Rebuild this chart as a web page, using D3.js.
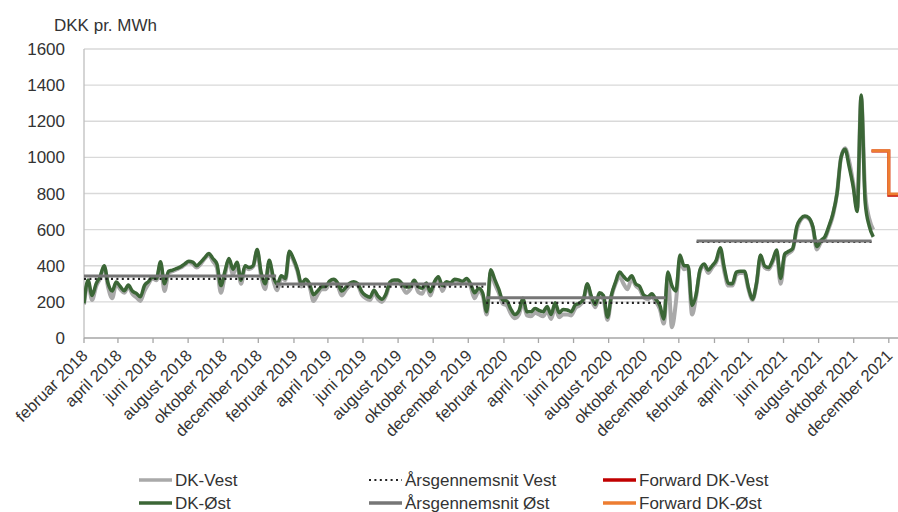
<!DOCTYPE html>
<html>
<head>
<meta charset="utf-8">
<script src="https://cdn.jsdelivr.net/npm/d3@7"></script>
<style>
  body { margin: 0; background: #fff; }
  text { font-family: "Liberation Sans", Arial, sans-serif; fill: #333; }
</style>
</head>
<body>
<div id="chart"></div>
<script>
// Weekly prices, first week starts 2018-02-01
const firstWeek = '2018-02-01';

const dkOst = [
  192, 321, 235, 300, 340, 400, 300, 260, 310, 285, 262, 293, 260, 247, 228, 290, 312, 337, 330, 422,
  300, 370, 376, 385, 395, 410, 425, 420, 400, 420, 445, 468, 440, 410, 290, 370, 440, 380, 420, 320,
  400, 390, 400, 490, 360, 300, 430, 340, 300, 345, 330, 480, 440, 380, 300, 325, 300, 240, 260, 284,
  285, 315, 325, 305, 260, 280, 303, 312, 300, 256, 235, 225, 265, 232, 215, 245, 310, 321, 321, 300,
  282, 285, 320, 284, 275, 305, 256, 310, 339, 290, 312, 305, 325, 322, 314, 330, 300, 250, 275, 250,
  146, 378, 325, 270, 210, 205, 160, 130, 150, 220, 145, 145, 164, 153, 145, 175, 130, 195, 140, 158,
  155, 146, 183, 192, 215, 300, 230, 185, 250, 235, 115, 240, 310, 365, 340, 320, 345, 300, 285, 238,
  228, 245, 215, 180, 105, 365, 290, 260, 459, 400, 400, 180, 240, 380, 410, 376, 400, 430, 500, 390,
  303, 300, 365, 370, 370, 280, 215, 303, 460, 400, 390, 430, 487, 330, 465, 480, 496, 616, 660, 675,
  665, 616, 506, 540, 561, 620, 690, 800, 1000, 1045, 950, 840, 700, 1345, 750, 620, 560
];

const dkVest = [
  185, 305, 210, 285, 330, 395, 280, 220, 300, 270, 250, 285, 245, 225, 205, 260, 300, 330, 320, 405,
  260, 360, 370, 380, 390, 405, 420, 410, 390, 410, 440, 460, 425, 390, 250, 350, 430, 350, 410, 300,
  390, 380, 395, 480, 340, 270, 420, 320, 265, 335, 320, 470, 430, 370, 285, 310, 285, 205, 240, 270,
  270, 305, 315, 290, 235, 265, 290, 300, 290, 240, 220, 210, 250, 215, 200, 235, 300, 315, 315, 285,
  250, 270, 310, 255, 245, 295, 235, 300, 330, 260, 300, 295, 320, 315, 305, 320, 285, 220, 260, 235,
  130, 360, 300, 250, 190, 180, 135, 110, 130, 200, 125, 120, 140, 130, 120, 150, 105, 170, 115, 130,
  130, 125, 165, 180, 205, 290, 215, 170, 235, 215, 100, 230, 300, 340, 300, 270, 330, 290, 270, 225,
  215, 230, 200, 160, 80, 340, 60, 200, 430, 380, 390, 130, 230, 370, 400, 360, 390, 420, 480, 370,
  290, 290, 350, 360, 360, 270, 210, 295, 440, 390, 380, 420, 470, 300, 450, 470, 490, 600, 655, 670,
  660, 610, 490, 530, 550, 610, 680, 800, 1000, 1050, 980, 860, 720, 1330, 800, 660, 600
];

// Yearly averages (segments)
const avgStart = ['2018-02-01', '2019-01-01', '2020-01-01', '2021-01-01'];
const avgEndOst = ['2019-01-01', '2020-01-01', '2020-11-08', '2021-11-01'];
const avgEndVest = ['2019-01-01', '2020-01-01', '2020-11-01', '2021-11-01'];
const avgOst = [343, 299, 223, 537];
const avgVest = [327, 284, 195, 532];

// Forward prices (monthly steps)
const fwdDates = ['2021-11-01', '2021-12-01', '2021-12-31'];
const fwdVest = [1035, 790, 790];
const fwdOst = [1037, 797, 797];

const yTicks = [0, 200, 400, 600, 800, 1000, 1200, 1400, 1600];
const danishMonths = ['januar', 'februar', 'marts', 'april', 'maj', 'juni', 'juli',
  'august', 'september', 'oktober', 'november', 'december'];

const width = 898, height = 512;
const plot = { left: 84, right: 898, top: 49, bottom: 338 };
const parse = d3.timeParse('%Y-%m-%d');

const svg = d3.select('#chart').append('svg')
  .attr('width', width)
  .attr('height', height);

const x = d3.scaleTime()
  .domain([parse('2018-02-01'), parse('2021-12-17')])
  .range([plot.left, plot.right]);

const y = d3.scaleLinear()
  .domain([0, 1600])
  .range([plot.bottom, plot.top]);

svg.append('defs').append('clipPath')
  .attr('id', 'plot-clip')
  .append('rect')
  .attr('x', plot.left)
  .attr('y', 0)
  .attr('width', plot.right - plot.left)
  .attr('height', height);

// gridlines
svg.append('g')
  .selectAll('line')
  .data(yTicks.filter(d => d > 0))
  .enter()
  .append('line')
  .attr('x1', plot.left)
  .attr('x2', plot.right)
  .attr('y1', d => y(d))
  .attr('y2', d => y(d))
  .attr('stroke', '#d9d9d9')
  .attr('stroke-width', 1.3);

// y axis
svg.append('line')
  .attr('x1', plot.left).attr('x2', plot.left)
  .attr('y1', plot.top).attr('y2', plot.bottom)
  .attr('stroke', '#bfbfbf')
  .attr('stroke-width', 1.3);

svg.append('g')
  .selectAll('text')
  .data(yTicks)
  .enter()
  .append('text')
  .attr('x', 65)
  .attr('y', d => y(d))
  .attr('dy', '0.36em')
  .attr('text-anchor', 'end')
  .attr('font-size', 17)
  .text(d => d);

svg.append('text')
  .attr('x', 54)
  .attr('y', 31)
  .attr('font-size', 17)
  .text('DKK pr. MWh');

// x axis
const xTicks = d3.timeMonth.range(parse('2018-02-01'), parse('2021-12-02'), 2);

const xAxis = svg.append('g');
xAxis.append('line')
  .attr('x1', plot.left).attr('x2', plot.right)
  .attr('y1', plot.bottom).attr('y2', plot.bottom)
  .attr('stroke', '#a6a6a6')
  .attr('stroke-width', 1.3);

xAxis.selectAll('.tick')
  .data(xTicks)
  .enter()
  .append('line')
  .attr('x1', d => x(d)).attr('x2', d => x(d))
  .attr('y1', plot.bottom).attr('y2', plot.bottom + 5)
  .attr('stroke', '#a6a6a6')
  .attr('stroke-width', 1.3);

xAxis.selectAll('.tick-label')
  .data(xTicks)
  .enter()
  .append('text')
  .attr('transform', d => `translate(${x(d) - 4},${plot.bottom + 10}) rotate(-45)`)
  .attr('text-anchor', 'end')
  .attr('dy', '0.75em')
  .attr('font-size', 16.5)
  .text(d => `${danishMonths[d.getMonth()]} ${d.getFullYear()}`);

// series
const start = parse(firstWeek);
const weekly = values => values.map((v, i) => ({ date: d3.timeDay.offset(start, 7 * i), value: v }));

const line = d3.line()
  .x(d => x(d.date))
  .y(d => y(d.value))
  .curve(d3.curveMonotoneX);

const series = svg.append('g').attr('clip-path', 'url(#plot-clip)');

series.append('path')
  .datum(weekly(dkVest))
  .attr('d', line)
  .attr('fill', 'none')
  .attr('stroke', '#a9a9a9')
  .attr('stroke-width', 4)
  .attr('stroke-linejoin', 'round');

series.append('path')
  .datum(weekly(dkOst))
  .attr('d', line)
  .attr('fill', 'none')
  .attr('stroke', '#3b6636')
  .attr('stroke-width', 3.5)
  .attr('stroke-linejoin', 'round');

// yearly averages
const segments = (starts, ends, vals) => vals.map((v, i) => [
  { date: parse(starts[i]), value: v },
  { date: parse(ends[i]), value: v }
]);

const straight = d3.line().x(d => x(d.date)).y(d => y(d.value));

series.selectAll('.avg-vest')
  .data(segments(avgStart, avgEndVest, avgVest))
  .enter()
  .append('path')
  .attr('d', straight)
  .attr('fill', 'none')
  .attr('stroke', '#222')
  .attr('stroke-width', 2.2)
  .attr('stroke-dasharray', '2,3.4');

series.selectAll('.avg-ost')
  .data(segments(avgStart, avgEndOst, avgOst))
  .enter()
  .append('path')
  .attr('d', straight)
  .attr('fill', 'none')
  .attr('stroke', '#767676')
  .attr('stroke-width', 3);

// forward
const fwd = values => values.map((v, i) => ({ date: parse(fwdDates[i]), value: v }));
const step = d3.line().x(d => x(d.date)).y(d => y(d.value)).curve(d3.curveStepAfter);

series.append('path')
  .datum(fwd(fwdVest))
  .attr('d', step)
  .attr('fill', 'none')
  .attr('stroke', '#c00000')
  .attr('stroke-width', 3);

series.append('path')
  .datum(fwd(fwdOst))
  .attr('d', step)
  .attr('fill', 'none')
  .attr('stroke', '#ed7d31')
  .attr('stroke-width', 3);

// legend
const legendItems = [
  { label: 'DK-Vest', color: '#a9a9a9', dash: null, col: 0, row: 0 },
  { label: 'DK-Øst', color: '#3b6636', dash: null, col: 0, row: 1 },
  { label: 'Årsgennemsnit Vest', color: '#222', dash: '2,3.4', col: 1, row: 0 },
  { label: 'Årsgennemsnit Øst', color: '#767676', dash: null, col: 1, row: 1 },
  { label: 'Forward DK-Vest', color: '#c00000', dash: null, col: 2, row: 0 },
  { label: 'Forward DK-Øst', color: '#ed7d31', dash: null, col: 2, row: 1 }
];
const legendCols = [139, 369, 603];
const legendRows = [480, 503];

const legend = svg.append('g')
  .selectAll('g')
  .data(legendItems)
  .enter()
  .append('g')
  .attr('transform', d => `translate(${legendCols[d.col]},${legendRows[d.row]})`);

legend.append('line')
  .attr('x1', 0).attr('x2', 33)
  .attr('stroke', d => d.color)
  .attr('stroke-width', d => d.dash ? 2.2 : 3.5)
  .attr('stroke-dasharray', d => d.dash);

legend.append('text')
  .attr('x', 36)
  .attr('dy', '0.36em')
  .attr('font-size', 17)
  .text(d => d.label);
</script>
</body>
</html>
